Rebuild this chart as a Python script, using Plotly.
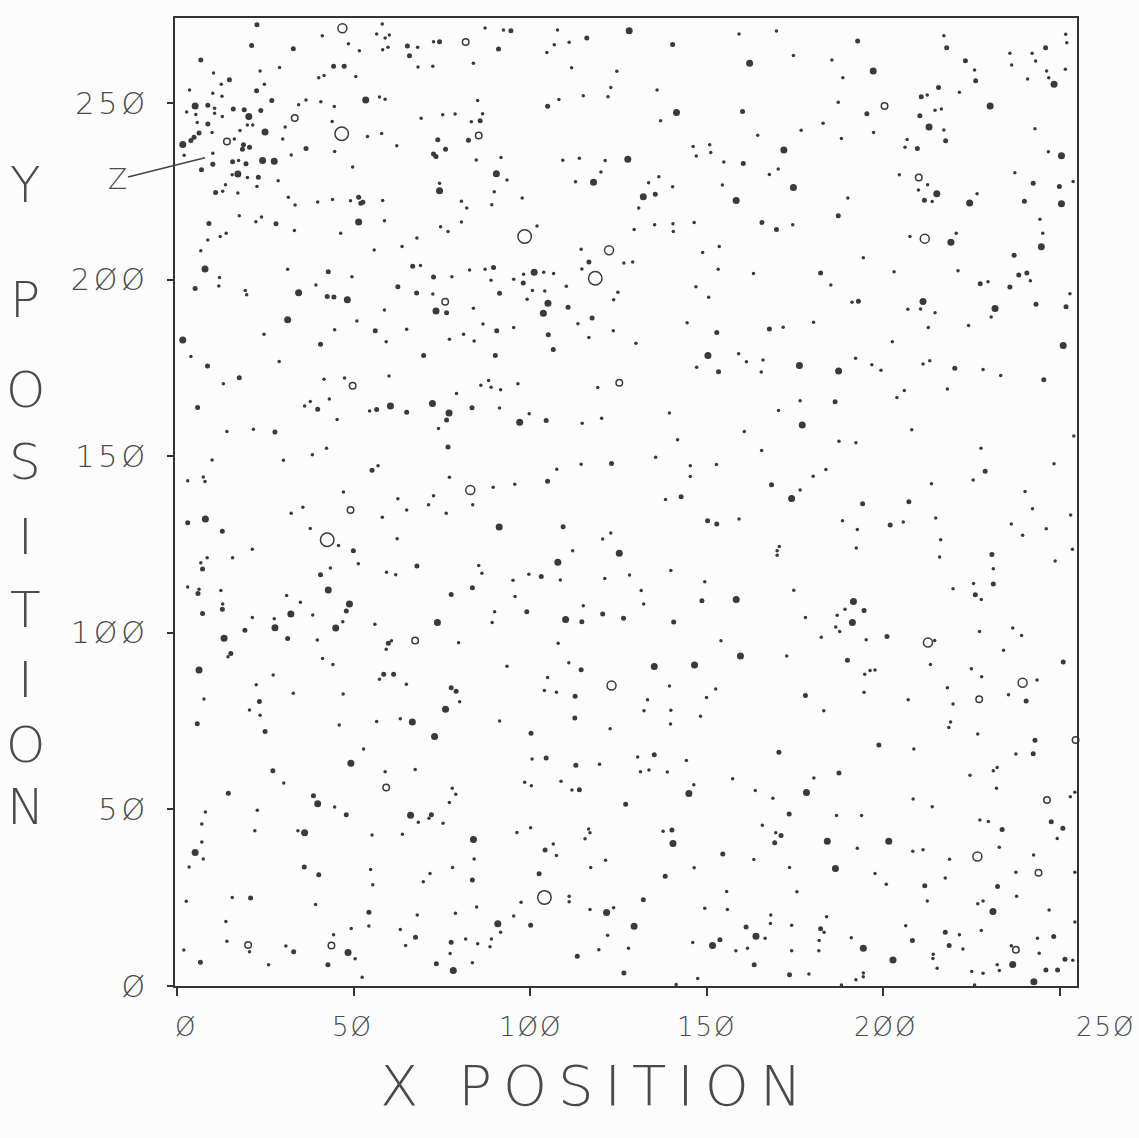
import plotly.graph_objects as go

# ---- data (x, y positions) ----
faint_stars = [
(58.1,272.5),(41.1,269.2),(56.5,269.7),(58.9,268.5),(60.1,269.4),(48.5,266.9),(51.6,264.9),(58.2,265.2),(59.7,265.9),(68.1,265.9),
(72.6,267.5),(68.2,260.3),(72.4,260.5),(83.9,261.4),(10.3,258.6),(23.5,259.2),(29.0,260.2),(40.1,257.3),(41.6,257.9),(50.6,257.6),
(12.5,255.4),(24.7,255.4),(3.5,253.8),(10.1,252.9),(12.7,252.0),(36.5,251.0),(34.4,249.6),(40.7,250.5),(44.5,249.1),(57.3,251.8),
(58.9,251.2),(2.7,247.6),(5.3,246.9),(10.6,248.6),(10.6,247.2),(12.8,246.3),(5.7,244.6),(19.9,243.9),(21.4,243.9),(30.6,243.3),
(43.9,244.9),(17.8,242.3),(9.9,241.8),(16.2,239.9),(29.9,239.9),(32.3,235.4),(44.6,236.4),(49.7,232.0),(53.9,240.6),(57.9,241.5),
(62.2,238.0),(69.1,245.8),(75.2,246.8),(78.7,247.0),(83.3,244.8),(2.0,235.3),(10.1,235.9),(17.4,233.8),(15.6,229.8),(19.9,229.0),
(28.6,228.1),(13.7,227.0),(22.6,226.5),(12.9,225.1),(17.2,224.6),(31.5,223.4),(33.4,221.2),(39.8,222.1),(44.0,222.8),(49.1,222.4),
(58.2,222.5),(74.3,227.4),(80.5,222.3),(82.0,220.4),(17.6,218.2),(22.3,216.5),(23.9,217.8),(33.2,214.0),(58.7,216.8),(46.3,213.2),
(8.7,211.3),(12.2,212.3),(13.9,213.2),(67.9,211.9),(74.6,215.1),(76.7,213.7),(80.5,216.4),(63.7,209.5),(55.8,208.5),(6.7,208.3),
(87.2,271.4),(92.4,270.8),(107.7,270.8),(159.1,269.7),(106.8,266.6),(104.7,264.4),(111.0,267.3),(111.7,260.1),(124.5,259.1),
(85.1,250.8),(108.1,251.1),(115.0,252.2),(122.0,251.9),(122.8,254.5),(135.9,253.8),(136.9,245.1),(164.4,241.0),(86.5,247.1),
(84.7,234.0),(91.7,234.7),(93.4,228.3),(89.8,225.0),(89.1,221.3),(97.7,223.2),(109.2,233.9),(113.9,234.5),(121.2,233.8),(120.0,230.6),
(112.8,227.8),(133.5,227.5),(136.4,229.2),(140.3,226.4),(130.7,220.4),(146.1,237.8),(150.8,238.3),(147.0,235.1),(151.1,236.1),
(154.8,233.4),(167.7,229.9),(154.4,226.9),(101.9,215.3),(114.4,208.7),(129.4,214.3),(135.2,215.6),(140.4,215.9),(140.5,213.7),
(146.4,216.3),(153.5,209.5),(148.8,207.8),
(169.7,270.5),(217.1,269.2),(251.6,269.6),(251.9,267.2),(174.5,263.6),(185.4,262.3),(188.5,257.3),(225.8,259.5),(235.8,264.2),
(236.3,260.9),(242.1,264.2),(243.1,262.0),(246.2,259.2),(246.8,257.3),(251.5,259.7),(240.8,256.9),(187.2,250.3),(197.2,241.8),
(212.4,252.4),(221.5,253.2),(214.6,248.1),(216.4,248.4),(217.1,242.5),(206.7,239.8),(206.1,237.6),(182.9,244.4),(176.7,242.4),
(188.1,240.1),(170.2,231.4),(242.9,242.8),(246.7,236.3),(237.2,230.4),(253.7,227.9),(244.3,217.2),(245.1,213.2),(204.5,229.8),
(212.5,227.0),(209.9,225.5),(213.8,222.2),(226.5,224.4),(189.9,223.2),(174.3,215.6),(207.5,212.3),(220.6,213.2),(194.3,206.3),
(12.0,200.7),(11.8,198.3),(31.3,203.0),(49.5,200.9),(39.3,198.6),(19.3,197.0),(19.7,195.8),(68.9,204.1),(77.8,200.9),(82.8,202.8),
(72.4,196.0),(83.9,192.0),(58.7,191.5),(50.9,188.4),(44.6,185.9),(65.0,186.0),(81.1,184.6),(77.1,183.2),(84.1,182.7),(24.6,184.6),
(59.2,182.5),(3.9,178.3),(28.9,176.9),(13.1,170.6),(41.6,171.9),(47.4,172.2),(60.0,172.8),(79.1,167.8),(37.7,165.6),(36.1,164.3),
(43.1,166.3),(45.3,160.5),(54.5,162.9),(74.0,157.9),(14.1,157.1),(21.6,157.7),(9.9,149.0),(30.1,148.9),(38.3,150.5),(42.3,152.3),
(56.9,147.4),(3.0,143.1),(7.4,144.2),(7.9,142.9),(77.1,144.1),(47.1,139.9),(62.5,138.0),(72.6,138.9),
(87.2,203.0),(88.9,199.9),(95.3,200.2),(98.1,201.6),(103.8,202.2),(106.6,201.8),(100.6,197.0),(104.1,196.9),(99.1,194.5),
(110.2,198.2),(114.6,203.1),(126.5,204.8),(129.0,205.1),(124.8,196.5),(123.6,194.4),(113.5,187.6),(116.6,183.7),(123.5,185.6),
(129.9,182.1),(86.6,187.5),(95.3,186.5),(88.2,171.5),(86.0,170.2),(88.9,169.6),(91.6,168.9),(96.5,170.6),(119.1,169.5),(91.3,163.7),
(99.7,162.1),(114.7,159.4),(120.2,160.8),(144.4,187.9),(146.9,198.1),(150.5,195.1),(153.2,203.0),(163.2,201.8),(147.1,175.3),
(159.0,179.1),(161.2,176.8),(165.9,177.3),(165.4,173.9),(139.4,162.3),(141.7,154.7),(160.6,157.1),(165.5,151.7),(135.5,149.8),
(145.3,147.4),(145.3,144.3),(152.7,147.7),(114.4,147.8),(107.5,146.4),(95.6,142.1),(89.5,141.3),(138.3,137.8),
(185.1,198.6),(203.0,202.3),(221.1,202.6),(229.6,199.5),(241.6,199.8),(252.8,196.1),(191.1,193.7),(206.9,191.7),(210.5,191.8),
(214.6,190.7),(212.7,186.5),(224.1,187.1),(230.5,189.5),(180.2,188.0),(171.6,186.6),(202.5,182.5),(192.1,177.8),(196.7,176.0),
(199.3,174.4),(211.2,176.2),(213.1,177.1),(228.2,174.6),(233.2,172.9),(218.1,169.1),(205.9,168.7),(203.8,166.7),(176.4,165.8),
(170.3,163.0),(208.0,157.6),(187.4,154.3),(192.2,153.9),(227.6,152.3),(253.9,155.8),(248.3,147.9),(183.7,146.3),(180.1,144.4),
(225.4,143.3),(213.6,142.3),(176.4,140.5),(240.1,140.1),
(32.3,133.9),(35.6,135.6),(37.7,129.6),(45.7,124.8),(51.3,119.6),(58.1,132.8),(65.0,134.8),(71.2,136.3),(76.2,133.9),(83.7,136.3),
(62.3,126.7),(21.3,123.7),(15.7,121.3),(8.5,121.3),(6.7,119.9),(59.3,117.2),(61.9,116.5),(43.4,118.4),(3.0,113.0),(6.2,112.4),
(12.4,112.0),(31.0,110.6),(34.9,108.7),(12.9,108.2),(38.4,105.1),(21.3,104.4),(27.5,104.0),(39.7,98.0),(46.9,103.2),(56.0,102.5),
(60.7,97.8),(59.2,95.4),(79.7,97.2),(14.4,93.3),(41.2,92.8),(44.1,91.1),(27.2,88.1),(57.3,86.9),(64.9,85.5),(22.4,85.3),(32.9,82.9),
(47.0,82.7),(80.0,80.5),(7.6,81.3),(20.5,78.2),(23.5,76.7),(45.9,73.9),(56.5,74.9),(63.2,75.7),
(120.5,126.6),(122.8,128.3),(112.0,123.3),(159.1,132.3),(85.4,119.1),(86.3,116.9),(95.1,114.9),(99.6,116.6),(108.5,115.0),
(95.7,110.3),(121.1,115.4),(128.1,116.4),(139.8,117.7),(149.4,114.5),(131.4,112.0),(132.1,108.2),(89.9,106.0),(89.2,103.0),
(115.0,107.7),(154.0,97.8),(107.9,97.1),(93.4,90.6),(110.9,91.6),(104.9,87.4),(104.0,83.7),(107.4,83.2),(139.4,85.0),(152.5,84.1),
(149.9,81.7),(133.2,81.1),(132.2,78.0),(139.8,78.1),(148.2,76.4),(139.7,74.2),(91.3,75.1),(122.6,72.9),
(188.4,131.8),(192.6,129.3),(205.6,131.4),(214.8,132.6),(192.3,124.1),(216.2,126.4),(215.9,121.5),(170.5,124.5),(169.9,123.3),
(169.9,122.0),(236.2,130.9),(239.4,127.7),(242.2,135.2),(246.1,129.5),(253.0,133.4),(253.5,123.7),(248.6,120.4),(231.1,118.2),
(219.7,112.5),(225.5,114.0),(227.7,109.5),(174.6,112.1),(189.1,106.7),(186.9,105.0),(177.9,104.4),(186.5,101.7),(187.6,100.4),
(182.4,98.8),(195.1,98.1),(214.5,97.9),(227.2,100.4),(236.6,101.4),(239.1,99.3),(234.0,95.1),(172.6,93.5),(213.3,91.1),(224.9,89.9),
(227.8,87.6),(194.7,88.3),(196.2,89.4),(197.6,89.5),(243.5,86.7),(218.1,84.5),(235.4,82.5),(219.7,79.9),(194.5,83.2),(207.0,81.1),
(183.1,78.0),(219.0,74.8),(218.5,73.2),(226.7,71.4),
(52.8,67.1),(30.2,57.5),(58.9,60.7),(67.4,61.3),(44.6,50.7),(8.0,49.3),(22.7,49.8),(7.0,45.9),(22.0,44.0),(34.2,44.0),(55.2,42.8),
(63.8,43.0),(68.3,46.4),(71.3,47.5),(75.3,46.1),(77.9,56.0),(78.9,54.3),(77.1,52.0),(7.0,40.8),(7.4,36.0),(3.4,33.7),(54.8,33.0),
(55.4,28.7),(71.6,31.9),(69.7,29.5),(78.0,33.6),(84.1,36.0),(2.6,24.0),(15.6,25.1),(39.2,23.1),(54.3,17.0),(68.0,20.1),(78.8,20.6),
(13.8,18.3),(14.1,12.7),(20.5,9.7),(1.9,10.2),(25.9,6.0),(30.8,11.3),(44.3,14.5),(49.3,16.3),(50.4,7.7),(52.4,2.5),(63.2,16.0),
(64.7,11.5),(77.3,9.2),(81.7,13.3),(83.6,6.6),
(100.5,64.3),(119.6,62.8),(130.4,64.9),(131.2,60.7),(133.6,61.2),(138.8,60.6),(144.2,63.9),(98.4,57.7),(100.3,56.7),(108.7,58.0),
(111.8,55.5),(146.3,57.0),(157.3,58.7),(163.7,55.4),(168.7,53.2),(96.2,43.5),(100.1,44.8),(116.5,44.5),(116.9,43.4),(115.5,41.7),
(137.6,43.8),(165.7,45.5),(106.5,40.2),(107.4,37.0),(121.3,35.6),(117.1,33.6),(146.4,33.5),(163.3,35.8),(111.0,25.4),(111.0,23.9),
(97.4,23.7),(84.8,22.4),(116.9,21.7),(123.6,22.2),(155.6,26.8),(155.8,21.7),(149.4,22.0),(168.1,20.1),(168.0,17.7),(95.3,19.8),
(91.6,15.2),(85.1,12.0),(89.0,13.3),(88.6,11.1),(121.9,14.4),(119.4,10.3),(127.8,10.7),(146.0,12.3),(158.2,10.0),(166.5,13.5),
(161.5,10.7),(147.4,2.1),(141.3,0.4),
(208.6,67.1),(180.3,58.9),(208.4,53.0),(213.8,50.8),(224.5,59.7),(231.1,61.0),(232.2,61.9),(232.0,56.0),(237.5,65.7),(252.9,53.6),
(254.2,54.9),(186.7,48.3),(193.8,48.3),(169.5,43.4),(192.6,39.0),(208.3,38.2),(211.2,38.6),(218.7,35.9),(227.3,47.0),(229.7,46.6),
(232.8,39.3),(249.2,41.8),(242.5,37.1),(237.5,32.2),(254.2,32.2),(173.4,33.6),(197.6,31.9),(200.8,28.8),(217.5,30.6),(237.7,25.4),
(175.5,26.7),(212.4,24.1),(226.7,23.3),(228.2,24.1),(246.9,21.5),(254.2,18.1),(183.9,19.6),(174.0,17.2),(183.2,15.2),(181.8,12.9),
(181.7,10.0),(174.0,10.0),(190.9,13.7),(206.3,17.1),(221.5,14.5),(222.5,10.5),(214.1,9.0),(214.0,7.8),(215.2,5.0),(227.7,15.7),
(236.2,11.4),(243.6,13.5),(244.1,9.3),(253.6,7.3),(232.2,6.0),(232.8,4.4),(225.0,4.1),(228.2,3.6),(178.9,3.4),(194.3,3.7),
(194.3,2.6),(192.2,1.8),(188.1,0.3),(225.8,0.3),
]

medium_stars = [
(22.6,272.3),(21.1,266.4),(32.9,265.5),(65.2,266.3),(65.8,263.5),(74.3,267.5),(6.7,262.3),(44.3,260.5),(47.3,260.5),(14.8,256.7),
(22.5,253.6),(26.8,250.8),(8.7,249.5),(15.9,248.4),(19.0,248.2),(23.7,248.0),(8.7,244.2),(6.2,241.6),(4.8,240.4),(3.9,239.5),
(18.8,238.3),(18.5,237.0),(20.5,237.6),(36.5,237.2),(73.8,239.7),(82.5,239.6),(72.6,235.7),(73.3,235.0),(76.0,237.0),(6.9,231.2),
(10.1,232.8),(15.7,233.5),(19.5,232.9),(23.0,229.1),(10.9,224.8),(51.4,223.4),(52.0,221.7),(52.6,222.0),(9.0,216.0),(28.0,215.9),
(94.5,270.6),(116.0,268.5),(91.0,265.4),(140.3,266.7),(104.9,249.2),(160.1,247.7),(85.8,245.1),(160.3,233.0),(135.4,224.3),(165.6,216.3),
(192.7,267.7),(217.9,265.8),(223.2,262.1),(226.1,256.4),(245.9,265.8),(195.3,247.1),(210.7,251.9),(215.6,254.5),(210.3,246.5),
(217.6,239.4),(209.6,237.2),(242.4,227.4),(249.8,226.5),(239.9,222.3),(237.0,207.0),(211.6,222.6),(187.2,218.2),(169.7,214.3),
(5.1,197.6),(42.8,202.3),(42.5,195.3),(44.4,195.2),(62.5,198.1),(66.7,203.9),(72.6,200.8),(67.8,196.3),(76.3,190.7),(56.1,185.6),
(40.6,181.8),(69.8,178.6),(8.6,175.6),(17.6,172.3),(5.8,163.9),(39.8,163.4),(56.5,163.3),(65.0,162.5),(76.3,160.3),(83.5,163.8),
(27.7,156.9),(76.7,152.7),(55.2,146.1),
(89.6,203.5),(91.3,196.2),(98.0,199.1),(110.7,192.3),(116.6,205.1),(117.5,189.2),(90.5,185.6),(105.1,184.5),(106.5,180.3),(90.1,178.6),
(104.5,160.2),(152.8,185.1),(167.7,186.1),(153.3,174.0),(123.0,148.0),(104.9,143.0),(142.7,138.6),(168.3,142.0),
(182.2,202.0),(227.4,198.9),(238.3,201.4),(240.6,202.0),(235.8,198.0),(243.2,193.1),(251.7,192.4),(192.9,194.0),(220.2,175.0),
(245.4,171.7),(186.3,165.5),(228.8,145.8),
(3.0,131.2),(12.8,128.8),(49.9,123.3),(7.2,118.1),(67.9,119.0),(40.6,116.5),(5.9,111.2),(47.9,106.2),(12.8,106.7),(7.2,105.5),
(77.6,110.9),(83.6,112.8),(19.2,100.8),(31.3,98.4),(59.8,97.1),(15.2,94.2),(58.5,88.3),(61.3,88.3),(77.6,84.5),(79.0,83.5),
(23.3,80.6),(5.7,74.3),(24.9,72.1),
(109.3,130.1),(150.2,131.8),(152.8,130.9),(103.1,116.0),(148.6,109.1),(99.0,106.0),(114.6,103.2),(120.5,105.4),(126.4,104.2),
(140.6,103.1),(114.4,89.6),(112.7,82.1),(112.6,75.9),(100.2,71.6),
(194.1,136.6),(207.2,137.2),(201.9,130.6),(230.7,122.2),(231.1,113.9),(226.0,110.8),(194.5,106.4),(201.0,99.0),(189.8,92.3),
(250.9,91.8),(240.4,80.7),(177.9,82.3),(242.9,69.6),
(27.1,61.0),(14.5,54.6),(38.6,53.9),(47.9,48.5),(72.0,48.5),(36.0,33.7),(40.1,31.5),(83.6,30.0),(20.8,24.9),(54.3,20.9),(6.6,6.7),
(33.0,9.7),(42.7,6.0),(67.5,13.8),(77.6,12.4),(73.4,6.3),
(104.5,64.6),(112.9,62.5),(135.1,65.5),(113.9,55.6),(127.0,51.5),(140.1,44.2),(104.2,38.5),(102.5,31.8),(138.2,31.1),(154.5,37.4),
(132.0,24.4),(100.1,17.2),(113.3,8.4),(126.5,3.7),(153.7,13.1),(161.1,16.7),(163.4,6.0),
(198.7,68.3),(170.4,66.2),(187.4,60.3),(242.4,65.8),(173.3,48.7),(171.0,42.6),(169.2,40.6),(233.6,44.3),(247.5,46.5),(250.8,44.7),
(211.7,28.4),(232.3,28.2),(182.2,16.2),(208.2,12.9),(217.5,15.2),(218.6,11.5),(248.2,14.0),(251.4,7.6),(246.0,4.5),(249.3,4.5),
(173.4,3.2),
]

bright_stars = [
(53.4,251.0),(5.1,249.3),(20.3,246.3),(24.9,241.9),(1.6,238.4),(24.2,233.8),(27.5,233.6),(17.2,230.0),(74.3,225.3),(51.4,216.4),
(128.0,270.6),(162.1,261.4),(141.4,247.4),(90.4,230.1),(127.6,234.2),(117.9,227.7),(132.0,223.6),(158.3,222.5),
(197.1,259.2),(248.3,255.4),(230.2,249.3),(212.9,243.3),(171.8,236.8),(250.4,235.2),(250.4,221.6),(244.7,209.4),(215.1,224.4),
(224.4,221.8),(174.5,226.2),(219.1,210.7),
(7.9,203.1),(34.4,196.4),(48.2,194.4),(73.3,191.2),(31.3,188.7),(1.6,183.0),(60.4,164.3),(72.3,165.0),(77.0,162.3),
(101.1,202.2),(105.0,193.4),(103.7,190.6),(97.0,159.7),(150.3,178.6),
(211.2,193.9),(231.6,191.9),(250.9,181.4),(176.2,175.8),(187.3,174.2),(177.0,158.9),(174.0,138.1),
(8.0,132.3),(42.8,112.2),(48.8,108.2),(32.2,105.4),(27.7,101.5),(13.3,98.5),(44.9,101.4),(73.7,103.0),(6.2,89.5),(76.0,78.4),
(66.6,74.8),(72.9,70.7),
(91.2,130.0),(125.2,122.6),(107.8,120.0),(158.3,109.5),(110.0,103.8),(159.5,93.5),(135.1,90.5),(146.5,90.9),
(191.5,108.9),(191.2,103.0),
(49.2,63.1),(39.8,51.6),(36.1,43.4),(66.1,48.4),(5.1,37.8),(83.9,41.5),(48.4,9.5),(78.2,4.4),
(144.9,54.5),(140.4,40.4),(121.6,20.8),(90.8,17.6),(129.4,16.9),(151.6,11.5),(163.9,14.1),
(178.2,54.8),(184.1,41.0),(201.5,41.0),(186.4,33.3),(231.0,21.1),(194.3,10.7),(202.7,7.4),(236.6,6.1),(242.6,1.2),
]

ring_small = [
(81.7,267.4),(33.3,245.9),(14.1,239.2),(85.4,240.9),(200.3,249.3),(210.0,229.0),(75.9,193.8),(125.2,170.9),(49.7,170.0),
(49.1,134.8),(67.4,97.9),(227.1,81.2),(254.4,69.7),(59.2,56.2),(20.1,11.6),(43.7,11.5),(246.3,52.7),(243.9,32.1),(237.5,10.3),
]
ring_medium = [
(46.8,271.3),(122.3,208.4),(211.7,211.7),(83.0,140.5),(123.0,85.1),(212.6,97.3),(239.4,85.9),(226.6,36.7),
]
ring_large = [
(46.6,241.4),(98.4,212.3),(118.4,200.5),(42.5,126.4),(104.0,25.1),
]

tick_vals = [0, 50, 100, 150, 200, 250]
tick_text = ["Ø", "5Ø", "1ØØ", "15Ø", "2ØØ", "25Ø"]
x_title = "X POSITION"
y_title = "Y POSITION"

INK = "#3a3a3a"
TXT = "#4a4a4a"
FONT = "DejaVu Sans"

fig = go.Figure()

def add_stars(points, size):
    xs, ys = zip(*points)
    fig.add_trace(go.Scatter(x=list(xs), y=list(ys), mode="markers", cliponaxis=False,
                             marker=dict(size=size, color=INK, line=dict(width=0)),
                             hoverinfo="x+y", showlegend=False))

def add_rings(points, size):
    xs, ys = zip(*points)
    fig.add_trace(go.Scatter(x=list(xs), y=list(ys), mode="markers", cliponaxis=False,
                             marker=dict(size=size, symbol="circle-open", color=INK,
                                         line=dict(width=1.5, color=INK)),
                             hoverinfo="x+y", showlegend=False))

add_stars(faint_stars, 3.5)
add_stars(medium_stars, 5)
add_stars(bright_stars, 7)
add_rings(ring_small, 6.5)
add_rings(ring_medium, 9)
add_rings(ring_large, 13.5)

def spaced(t, px):
    return '<span style="letter-spacing:%dpx">%s</span>' % (px, t)

annotations = []
# x tick labels (plotter style, the last one sits to the right of its tick)
x_label_shift = [9, -1, 0, 0, 2, 46]
for v, t, s in zip(tick_vals, tick_text, x_label_shift):
    annotations.append(dict(x=v, y=0, xref="x", yref="y", text=spaced(t, 2), showarrow=False,
                            xshift=s, yshift=-41,
                            font=dict(family=FONT, size=26, color=TXT, weight=200)))

# stacked vertical y title
y_letters = [c for c in y_title if c != " "]
y_pix = [185, 300, 390, 462, 537, 610, 680, 745, 807]
for letter, py in zip(y_letters, y_pix):
    annotations.append(dict(x=(25 - 175) / 902, y=(986 - py) / 968, xref="paper", yref="paper",
                            text=letter, showarrow=False, xanchor="center", yanchor="middle",
                            font=dict(family=FONT, size=50, color=TXT, weight=200)))

# x title
annotations.append(dict(x=(596 - 175) / 902, y=(986 - 1085) / 968, xref="paper", yref="paper",
                        text=spaced(x_title, 11), showarrow=False, xanchor="center", yanchor="middle",
                        font=dict(family=FONT, size=56, color=TXT, weight=200)))

# "Z" pointer
annotations.append(dict(x=7.9, y=234.6, xref="x", yref="y", text="Z", showarrow=True,
                        arrowhead=0, arrowwidth=1.5, arrowcolor="#444", ax=-88, ay=22,
                        standoff=0, font=dict(family=FONT, size=28, color=TXT, weight=200)))

fig.update_layout(
    width=1139, height=1138,
    margin=dict(l=175, r=62, t=18, b=152),
    paper_bgcolor="#fcfcfc", plot_bgcolor="#fcfcfc",
    showlegend=False,
    annotations=annotations,
    xaxis=dict(range=[-0.6, 254.8], showgrid=False, zeroline=False, showline=True, mirror=True,
               linecolor="#333", linewidth=2, ticks="outside", ticklen=8, tickwidth=2, tickcolor="#333",
               tickvals=tick_vals, showticklabels=False),
    yaxis=dict(range=[0, 274.2], showgrid=False, zeroline=False, showline=True, mirror=True,
               linecolor="#333", linewidth=2, ticks="outside", ticklen=6, tickwidth=2, tickcolor="#333",
               tickvals=tick_vals, ticktext=[spaced(t, 4) for t in tick_text], ticklabelstandoff=12,
               tickfont=dict(family=FONT, size=30, color=TXT, weight=200)),
)

fig.write_html("out.html")
